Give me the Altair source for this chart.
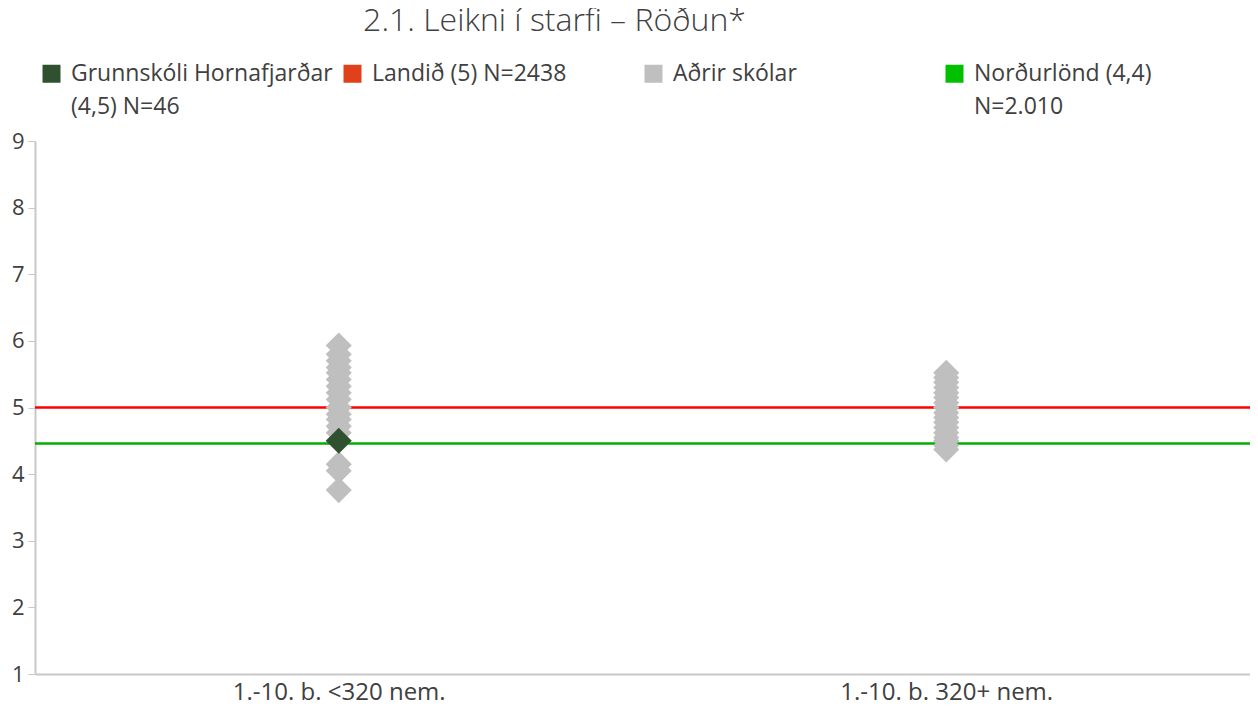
import altair as alt
import pandas as pd

categories = ["1.-10. b. <320 nem.", "1.-10. b. 320+ nem."]
series_names = ["Grunnskóli Hornafjarðar\n(4,5) N=46", "Landið (5) N=2438", "Aðrir skólar", "Norðurlönd (4,4)\nN=2.010"]
legend_colors = ["#2F5130", "#E0401A", "#BFBFBF", "#00C000"]

others_small = [5.93, 5.80, 5.70, 5.60, 5.52, 5.42, 5.32, 5.22, 5.12, 5.00, 4.90, 4.82, 4.72, 4.62, 4.15, 4.05, 3.76]
others_large = [5.52, 5.45, 5.38, 5.30, 5.22, 5.15, 5.07, 5.00, 4.92, 4.85, 4.78, 4.70, 4.62, 4.55, 4.50, 4.43, 4.37]
school_value = 4.5
school_category = categories[0]
landid_value = 5.0
nordurlond_value = 4.46

FONT = "Open Sans"
TEXT = "#404040"
FS = 23

rows = []
for v in others_small:
    rows.append({"cat": categories[0], "value": v, "series": series_names[2]})
for v in others_large:
    rows.append({"cat": categories[1], "value": v, "series": series_names[2]})
others_df = pd.DataFrame(rows)
school_df = pd.DataFrame([{"cat": school_category, "value": school_value, "series": series_names[0]}])
lines_df = pd.DataFrame([
    {"value": landid_value, "series": series_names[1], "col": "#FF0000"},
    {"value": nordurlond_value, "series": series_names[3], "col": "#00B000"},
])

color_scale = alt.Scale(domain=series_names, range=legend_colors)
x_enc = alt.X("cat:N", sort=categories, scale=alt.Scale(domain=categories, paddingInner=0, paddingOuter=0),
              axis=alt.Axis(title=None, labelAngle=0, ticks=False, labelPadding=6, domainColor="#C8C8C8",
                            domainWidth=2, labelFontSize=24, labelColor=TEXT, labelFont=FONT,
                            labelLimit=500))
y_scale = alt.Scale(domain=[1, 9], nice=False, zero=False)
y_axis = alt.Axis(title=None, values=list(range(1, 10)), grid=False, tickColor="#C8C8C8", tickSize=7,
                  domainColor="#C8C8C8", domainWidth=2, labelFontSize=22, labelColor=TEXT, labelFont=FONT,
                  labelPadding=4)

lines = alt.Chart(lines_df).mark_rule(strokeWidth=2.5).encode(
    y=alt.Y("value:Q", scale=y_scale, axis=y_axis),
    stroke=alt.Stroke("col:N", scale=None, legend=None),
)

legend = alt.Legend(title=None, orient="none", legendX=5, legendY=-79, columns=4, gridAlign="all",
                    symbolType="square", symbolSize=324, symbolStrokeWidth=0, labelFontSize=FS,
                    labelFont=FONT, labelColor=TEXT, columnPadding=8, labelOffset=8,
                    labelExpr="indexof(datum.label, '\\n') < 0 ? [datum.label, ''] : split(datum.label, '\\n')",
                    labelLimit=400)

others = alt.Chart(others_df).mark_point(shape="diamond", filled=True, size=680, opacity=1).encode(
    x=x_enc,
    y=alt.Y("value:Q", scale=y_scale, axis=y_axis),
    color=alt.Color("series:N", scale=color_scale, legend=legend),
)
school = alt.Chart(school_df).mark_point(shape="diamond", filled=True, size=680, opacity=1).encode(
    x=x_enc,
    y=alt.Y("value:Q", scale=y_scale, axis=y_axis),
    color=alt.Color("series:N", scale=color_scale, legend=legend),
)

chart = alt.layer(lines, others, school).properties(
    width=1215, height=533,
    title=alt.Title("2.1. Leikni í starfi – Röðun*", font=FONT, fontSize=32, fontWeight=300,
                    color=TEXT, anchor="middle", dx=-88, frame="group", offset=24),
    autosize=alt.AutoSizeParams(type="none"),
    padding={"left": 27, "top": 133, "right": 0, "bottom": 32},
).configure(font=FONT, style={"guide-label": {"lineHeight": 33}}, view=alt.ViewConfig(stroke=None))

chart.save("out.html", embed_options={"renderer": "svg", "actions": False})
